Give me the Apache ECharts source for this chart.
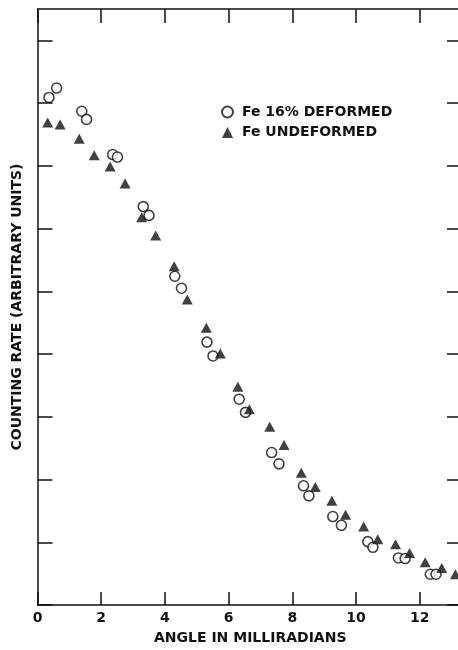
<!DOCTYPE html>
<html>
<head>
<meta charset="utf-8">
<script src="https://cdn.jsdelivr.net/npm/echarts@6/dist/echarts.min.js"></script>
<style>
html,body{margin:0;padding:0;background:#fff;}
#chart{width:458px;height:650px;}
</style>
</head>
<body>
<div id="chart"></div>
<script>
// Fe 16% deformed (open circles)
const deformedX = [0.36,0.60,1.39,1.54,2.36,2.51,3.32,3.50,4.31,4.52,5.32,5.51,6.33,6.53,7.35,7.58,8.35,8.52,9.27,9.54,10.37,10.53,11.33,11.54,12.33,12.51];
const deformedY = [8.09,8.24,7.87,7.74,7.18,7.14,6.35,6.21,5.24,5.05,4.19,3.97,3.28,3.07,2.43,2.25,1.90,1.74,1.41,1.27,1.01,0.92,0.75,0.74,0.49,0.49];
// Fe undeformed (filled triangles)
const undeformedX = [0.32,0.71,1.31,1.78,2.28,2.75,3.27,3.71,4.29,4.70,5.30,5.74,6.29,6.65,7.29,7.74,8.28,8.72,9.24,9.67,10.24,10.68,11.24,11.68,12.17,12.69,13.12];
const undeformedY = [7.69,7.66,7.43,7.17,6.99,6.72,6.18,5.89,5.40,4.87,4.42,4.01,3.48,3.12,2.84,2.55,2.11,1.88,1.66,1.44,1.25,1.05,0.97,0.83,0.68,0.59,0.49];
const xTickValues = [0,2,4,6,8,10,12];
const xTickLabels = ['0','2','4','6','8','10','12'];
const yTickValues = [0,1,2,3,4,5,6,7,8,9];
const seriesNames = ['Fe 16% DEFORMED','Fe UNDEFORMED'];
const xTitle = 'ANGLE IN MILLIRADIANS';
const yTitle = 'COUNTING RATE (ARBITRARY UNITS)';

const zip = (xs, ys) => xs.map((x, i) => [x, ys[i]]);
const font = 'DejaVu Sans';
const lineStyle = {color:'#111', width:1.5};

const chart = echarts.init(document.getElementById('chart'), null, {renderer:'canvas'});
chart.setOption({
  backgroundColor:'#fff',
  animation:false,
  grid:{left:37.5, top:9, right:0, bottom:45, containLabel:false, outerBoundsMode:'none'},
  legend:{
    orient:'vertical', left:221, top:105, padding:0, itemGap:6.5, itemWidth:11, itemHeight:11,
    textStyle:{fontFamily:font, fontWeight:'bold', fontSize:14, color:'#111', padding:[0,0,0,4]},
    data:[{name:seriesNames[0], icon:'circle'},{name:seriesNames[1], icon:'triangle'}]
  },
  xAxis:[{
    type:'value', min:0, max:13.2, interval:2, position:'bottom',
    axisLine:{show:true, onZero:false, lineStyle},
    axisTick:{show:true, inside:true, length:13, lineStyle, customValues:xTickValues},
    axisLabel:{show:true, margin:6, fontFamily:font, fontWeight:'bold', fontSize:14, color:'#111',
      customValues:xTickValues,
      formatter:(v)=>{const i = xTickValues.indexOf(v); return i >= 0 ? xTickLabels[i] : '';}},
    splitLine:{show:false},
    name:xTitle, nameLocation:'middle', nameGap:26,
    nameTextStyle:{fontFamily:font, fontWeight:'bold', fontSize:14, color:'#111', padding:[0,0,0,5]}
  },{
    type:'value', min:0, max:13.2, interval:2, position:'top',
    axisLine:{show:true, onZero:false, lineStyle},
    axisTick:{show:true, inside:true, length:14, lineStyle, customValues:xTickValues},
    axisLabel:{show:false}, splitLine:{show:false}
  }],
  yAxis:[{
    type:'value', min:0, max:9.5, interval:1, position:'left',
    axisLine:{show:true, onZero:false, lineStyle},
    axisTick:{show:true, inside:true, length:15, lineStyle, customValues:yTickValues},
    axisLabel:{show:false}, splitLine:{show:false},
    name:yTitle, nameLocation:'middle', nameRotate:90, nameGap:13,
    nameTextStyle:{fontFamily:font, fontWeight:'bold', fontSize:14, color:'#111'}
  },{
    type:'value', min:0, max:9.5, interval:1, position:'right',
    axisLine:{show:false, onZero:false},
    axisTick:{show:true, inside:true, length:11, lineStyle, customValues:yTickValues},
    axisLabel:{show:false}, splitLine:{show:false}
  }],
  series:[{
    name:seriesNames[0], type:'scatter', xAxisIndex:0, yAxisIndex:0,
    symbol:'circle', symbolSize:10, clip:false,
    itemStyle:{color:'#fff', borderColor:'#111', borderWidth:1.6},
    data:zip(deformedX, deformedY)
  },{
    name:seriesNames[1], type:'scatter', xAxisIndex:0, yAxisIndex:0,
    symbol:'triangle', symbolSize:[11,10], clip:false,
    itemStyle:{color:'#111'},
    data:zip(undeformedX, undeformedY)
  }]
});
</script>
</body>
</html>
